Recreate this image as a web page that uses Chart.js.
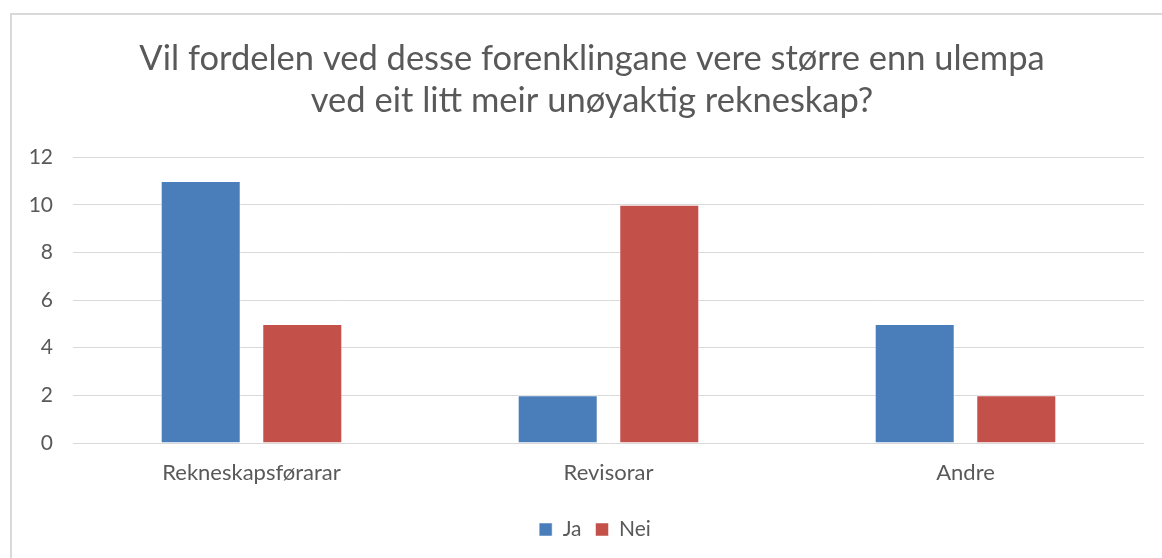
<!DOCTYPE html>
<html>
<head>
<meta charset="utf-8">
<script src="https://cdn.jsdelivr.net/npm/chart.js"></script>
<style>
  body { margin: 0; background: #fff; }
  #ramme { position: absolute; left: 10px; top: 13px; width: 1160px; height: 560px;
           border-left: 2px solid #d9d9d9; border-top: 2px solid #d9d9d9; }
  #boks { position: absolute; left: 0; top: 0; width: 1162px; height: 558px; }
</style>
</head>
<body>
<div id="ramme"></div>
<div id="boks"><canvas id="graf"></canvas></div>
<script>
// data lese av biletet
let kategoriar = ["Rekneskapsførarar", "Revisorar", "Andre"];
let ja = [11, 2, 5];
let nei = [5, 10, 2];
let tittel = ["Vil fordelen ved desse forenklingane vere større enn ulempa", "ved eit litt meir unøyaktig rekneskap?"];
let yMin = 0;
let yMaks = 12;
let ySteg = 2;

Chart.defaults.font.family = "Lato, 'Open Sans', sans-serif";
Chart.defaults.color = "#595959";

// tittel og forklaring ligg litt til høgre i originalen
const flytt = {
  id: "flytt",
  afterLayout: function(chart) {
    chart.titleBlock.left = 40;
    chart.legend.left = 46;
  }
};

function lagGraf(id)
{
  ctx = document.getElementById(id);
  return new Chart(ctx, {
    type: "bar",
    data: {
      labels: kategoriar,
      datasets: [
        { label: "Ja", data: ja, backgroundColor: "#4a7ebb", borderColor: "rgba(255,255,255,0.5)", borderWidth: 1 },
        { label: "Nei", data: nei, backgroundColor: "#c4504a", borderColor: "rgba(255,255,255,0.5)", borderWidth: 1 }
      ]
    },
    plugins: [flytt],
    options: {
      responsive: true,
      maintainAspectRatio: false,
      animation: false,
      categoryPercentage: 0.569,
      barPercentage: 0.788,
      layout: { padding: { left: 0, right: 18, top: 0, bottom: 8 } },
      plugins: {
        title: {
          display: true,
          text: tittel,
          color: "#595959",
          font: { size: 34.5, weight: "normal", lineHeight: 1.22 },
          padding: { top: 38, bottom: 35 }
        },
        legend: {
          position: "bottom",
          labels: { boxWidth: 13, boxHeight: 13, font: { size: 21 }, color: "#595959", padding: 14 }
        },
        tooltip: { enabled: false }
      },
      scales: {
        x: {
          grid: { display: false, drawTicks: false },
          border: { display: false },
          ticks: { font: { size: 22 }, color: "#595959", padding: 17 },
          afterFit: function(s) { s.height = 62; }
        },
        y: {
          min: yMin,
          max: yMaks,
          ticks: { stepSize: ySteg, font: { size: 21 }, color: "#595959", padding: 20 },
          grid: { color: "#d9d9d9", lineWidth: 1, drawTicks: false },
          border: { display: false },
          afterFit: function(s) { s.width = 73; }
        }
      }
    }
  });
}

let graf = lagGraf("graf");
</script>
</body>
</html>
